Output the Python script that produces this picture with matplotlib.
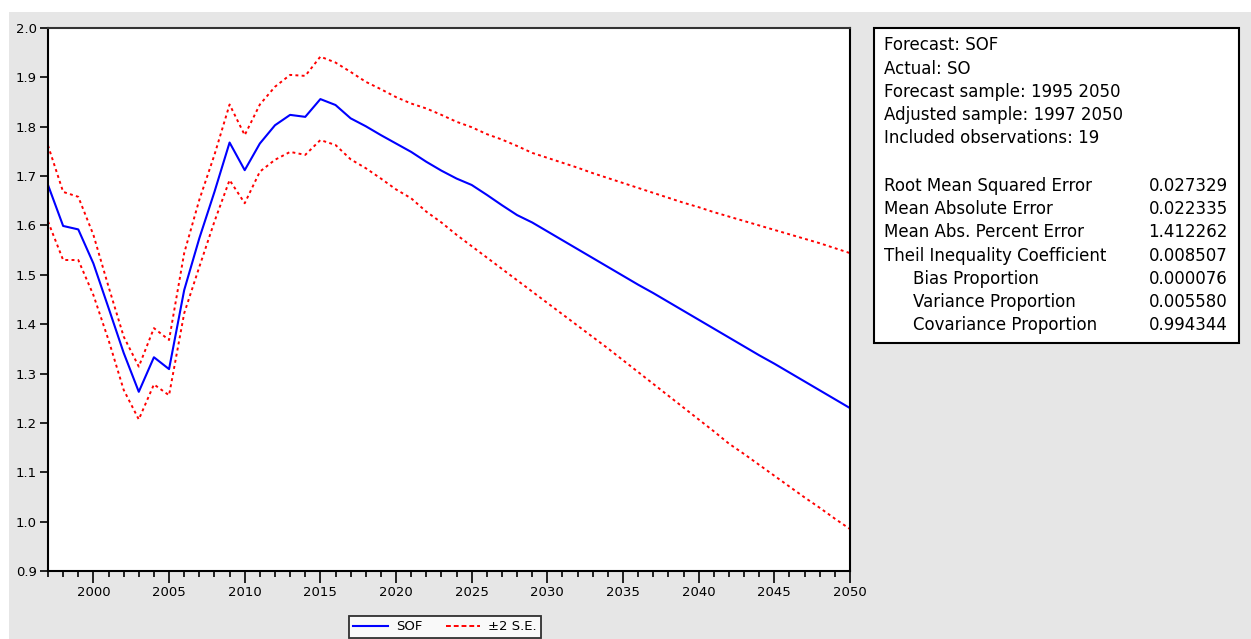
import matplotlib
matplotlib.use('Agg')
import matplotlib.pyplot as plt
from matplotlib.patches import Rectangle
from matplotlib.lines import Line2D
from matplotlib.ticker import MultipleLocator, FormatStrFormatter

# forecast series (annual, 1997-2050)
years = list(range(1997, 2051))

sof = [1.682, 1.599, 1.592, 1.523, 1.433, 1.342, 1.263, 1.333, 1.309, 1.469,
       1.574, 1.668, 1.768, 1.712, 1.766, 1.803, 1.824, 1.820, 1.856, 1.844,
       1.817, 1.801, 1.783, 1.766, 1.749, 1.729, 1.711, 1.695, 1.682, 1.662,
       1.641, 1.621, 1.606, 1.588, 1.570, 1.552, 1.534, 1.516, 1.498, 1.480,
       1.463, 1.445, 1.427, 1.409, 1.391, 1.373, 1.355, 1.337, 1.320, 1.302,
       1.284, 1.266, 1.248, 1.230]

upper = [1.762, 1.668, 1.658, 1.581, 1.476, 1.375, 1.314, 1.392, 1.368, 1.544,
         1.652, 1.743, 1.845, 1.783, 1.845, 1.881, 1.905, 1.903, 1.942, 1.930,
         1.911, 1.891, 1.876, 1.860, 1.847, 1.837, 1.824, 1.810, 1.799, 1.785,
         1.774, 1.761, 1.747, 1.737, 1.727, 1.717, 1.706, 1.696, 1.686, 1.676,
         1.666, 1.656, 1.646, 1.637, 1.627, 1.618, 1.609, 1.600, 1.591, 1.582,
         1.573, 1.564, 1.554, 1.544]

lower = [1.608, 1.530, 1.530, 1.459, 1.368, 1.267, 1.207, 1.278, 1.256, 1.422,
         1.516, 1.608, 1.692, 1.645, 1.709, 1.733, 1.749, 1.743, 1.773, 1.763,
         1.734, 1.716, 1.695, 1.673, 1.655, 1.628, 1.606, 1.581, 1.558, 1.535,
         1.512, 1.489, 1.466, 1.443, 1.420, 1.397, 1.374, 1.351, 1.327, 1.303,
         1.279, 1.255, 1.231, 1.207, 1.183, 1.158, 1.137, 1.115, 1.093, 1.071,
         1.049, 1.028, 1.006, 0.985]

# forecast evaluation table
info_lines = ['Forecast: SOF', 'Actual: SO', 'Forecast sample: 1995 2050',
              'Adjusted sample: 1997 2050', 'Included observations: 19']
stat_names = ['Root Mean Squared Error', 'Mean Absolute Error',
              'Mean Abs. Percent Error', 'Theil Inequality Coefficient',
              'Bias Proportion', 'Variance Proportion', 'Covariance Proportion']
stat_values = ['0.027329', '0.022335', '1.412262', '0.008507',
               '0.000076', '0.005580', '0.994344']

W, H = 1251, 639
plt.rcParams['font.family'] = ['DejaVu Sans']

fig = plt.figure(figsize=(W / 100, H / 100), dpi=100)
fig.patch.set_facecolor('white')

# grey panel behind everything
fig.add_artist(Rectangle((9 / W, 0), 1 - 9 / W, 1 - 12 / H, transform=fig.transFigure,
                         facecolor='#e6e6e6', edgecolor='none', zorder=-5))

ax = fig.add_axes([48 / W, 1 - 571 / H, 802 / W, 543 / H])
ax.set_facecolor('white')

ax.plot(years, sof, color='#0000ff', lw=1.5)
ax.plot(years, upper, color='#ff0000', lw=1.4, dashes=(1.5, 1.7))
ax.plot(years, lower, color='#ff0000', lw=1.4, dashes=(1.5, 1.7))

ax.set_xlim(1997, 2050)
ax.set_ylim(0.9, 2.0)
ax.yaxis.set_major_locator(MultipleLocator(0.1))
ax.yaxis.set_major_formatter(FormatStrFormatter('%.1f'))
ax.xaxis.set_major_locator(MultipleLocator(5))
ax.xaxis.set_minor_locator(MultipleLocator(1))

for side in ['left', 'bottom', 'right', 'top']:
    ax.spines[side].set_color('black')
    ax.spines[side].set_linewidth(1.5)
ax.spines['top'].set_color('#333333')

ax.tick_params(axis='y', direction='out', length=6, width=1.2, labelsize=9.5, pad=2)
ax.tick_params(axis='x', which='major', direction='out', length=8.5, width=1.2,
               labelsize=9.5, pad=2)
ax.tick_params(axis='x', which='minor', direction='out', length=4, width=1.2)
ax.tick_params(right=False, top=False)

# legend below the plot
h1 = Line2D([], [], color='#0000ff', lw=1.5)
h2 = Line2D([], [], color='#ff0000', lw=1.4, dashes=(2.5, 1.5))
leg = fig.legend([h1, h2], ['SOF', '±2 S.E.'], ncol=2, loc='lower center',
                 bbox_to_anchor=(445 / W, 0.0015), fontsize=9.5, frameon=True,
                 fancybox=False, handlelength=2.6, handletextpad=0.6,
                 columnspacing=1.8, borderpad=0.35, borderaxespad=0)
leg.get_frame().set_edgecolor('black')
leg.get_frame().set_linewidth(1.3)
leg.get_frame().set_facecolor('white')

# statistics box
fig.add_artist(Rectangle((874 / W, 1 - 343 / H), 365 / W, 315 / H,
                         transform=fig.transFigure, facecolor='white',
                         edgecolor='black', lw=1.5, zorder=1))

info_y = [45, 69, 92, 115, 138]
for txt, y in zip(info_lines, info_y):
    fig.text(884 / W, 1 - y / H, txt, fontsize=12, va='center', ha='left', zorder=2)

stat_y = [186, 209, 232, 256, 279, 302, 325]
for i, (name, val, y) in enumerate(zip(stat_names, stat_values, stat_y)):
    x0 = 913 if i >= 4 else 884
    fig.text(x0 / W, 1 - y / H, name, fontsize=12, va='center', ha='left', zorder=2)
    fig.text(1228 / W, 1 - y / H, val, fontsize=12, va='center', ha='right', zorder=2)

plt.savefig('out.png', dpi=100)
